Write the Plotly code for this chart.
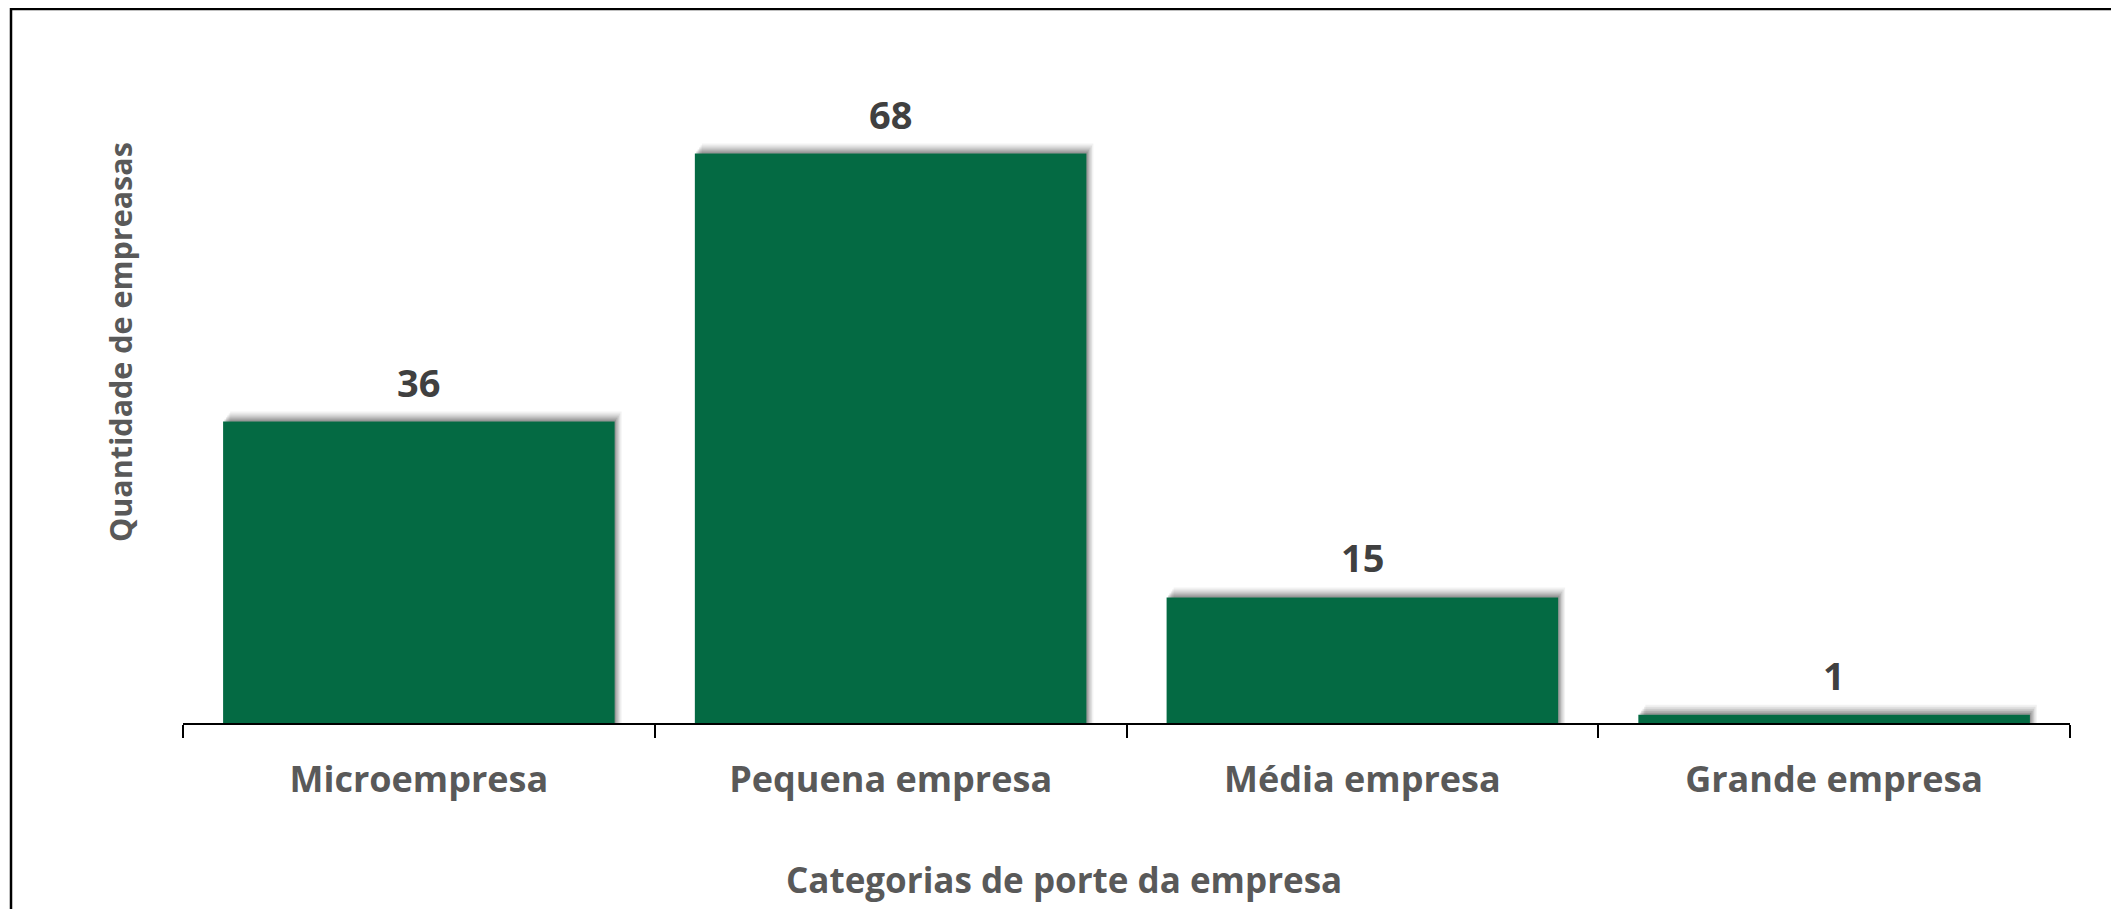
import plotly.graph_objects as go

categories = ["Microempresa", "Pequena empresa", "Média empresa", "Grande empresa"]
values = [36, 68, 15, 1]

x_title = "Categorias de porte da empresa"
y_title = "Quantidade de empreasas"

# page body has an 8px margin, so the figure is sized/positioned accordingly
OFF = 8
W, H = 2119 - OFF, 909 - OFF
ML, MR, MT, MB = 183 - OFF, 49, 53 - OFF, 186
plot_w = W - ML - MR
plot_h = H - MT - MB
y_max = 80
bar_w = 0.83
px_per_cat = plot_w / len(categories)
px_per_unit = plot_h / y_max

bar_color = "#046A43"
font_family = "Open Sans"

fig = go.Figure()

# soft shadow layers (offset up-right), derived from the same data
for k, a in [(10, 0.05), (8, 0.07), (6, 0.09), (4, 0.12), (2, 0.14)]:
    dx = k / px_per_cat
    dy = k / px_per_unit
    fig.add_trace(go.Bar(
        x=categories, y=[v + dy for v in values],
        width=bar_w, offset=-bar_w / 2 + dx * 0.7,
        marker=dict(color=f"rgba(0,0,0,{a})", line=dict(width=0)),
        hoverinfo="skip", showlegend=False,
    ))

fig.add_trace(go.Bar(
    x=categories, y=values, width=bar_w, offset=-bar_w / 2,
    marker=dict(color=bar_color, line=dict(width=0)),
    showlegend=False,
))

for c, v in zip(categories, values):
    fig.add_annotation(
        x=c, y=v, xref="x", yref="y", text=f"<b>{v}</b>", showarrow=False,
        yanchor="bottom", yshift=12,
        font=dict(family=font_family, size=38, color="#404040"),
    )

fig.add_annotation(
    x=(120 - OFF - ML) / plot_w, y=(H - MB - (342 - OFF)) / plot_h,
    xref="paper", yref="paper",
    text=f"<b>{y_title}</b>", textangle=-90, showarrow=False,
    xanchor="center", yanchor="middle",
    font=dict(family=font_family, size=30.5, color="#595959"),
)

fig.add_annotation(
    x=(1064 - OFF - ML) / plot_w, y=(H - MB - (879 - OFF)) / plot_h,
    xref="paper", yref="paper",
    text=f"<b>{x_title}</b>", showarrow=False,
    xanchor="center", yanchor="middle",
    font=dict(family=font_family, size=35, color="#595959"),
)

# outer frame (only left and top edges visible)
fig.add_shape(
    type="rect", xref="paper", yref="paper",
    x0=(11 - OFF - ML) / plot_w, x1=2.0, y0=-1.0, y1=(H - MB - 1) / plot_h,
    line=dict(color="black", width=2.5), fillcolor="rgba(0,0,0,0)", layer="above",
)

fig.update_layout(
    width=W, height=H,
    margin=dict(l=ML, r=MR, t=MT, b=MB),
    paper_bgcolor="white", plot_bgcolor="white",
    barmode="overlay",
    xaxis=dict(
        type="category", tickson="boundaries", ticks="outside", ticklen=13,
        tickwidth=1.5, tickcolor="black",
        showline=True, linecolor="black", linewidth=1.5,
        showgrid=False, zeroline=False, automargin=False,
        tickfont=dict(family=font_family, size=36, color="#595959"),
        tickvals=categories, ticktext=[f"<b>{c}</b>" for c in categories],
        ticklabelstandoff=24,
        range=[-0.5, len(categories) - 0.5],
    ),
    yaxis=dict(
        range=[0, y_max], showgrid=False, zeroline=False, showline=False,
        showticklabels=False, ticks="", automargin=False,
    ),
)

fig.write_html("out.html")
